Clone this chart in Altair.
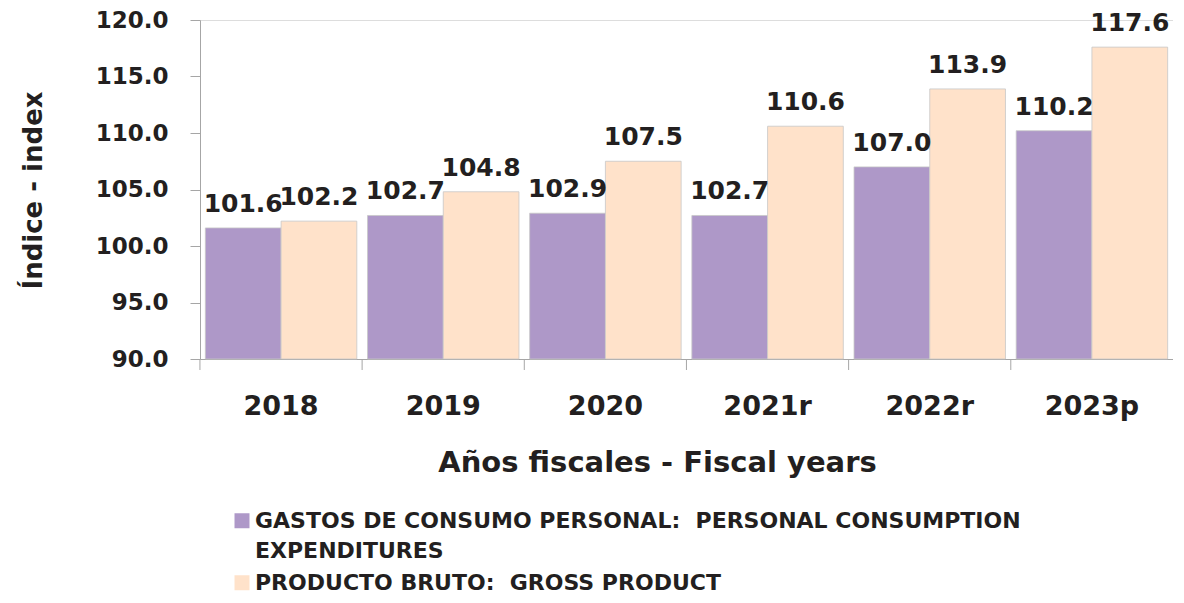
import altair as alt
import pandas as pd

years = ["2018", "2019", "2020", "2021r", "2022r", "2023p"]
gastos = [101.6, 102.7, 102.9, 102.7, 107.0, 110.2]
producto = [102.2, 104.8, 107.5, 110.6, 113.9, 117.6]
series_names = [
    "GASTOS DE CONSUMO PERSONAL:\u00a0 PERSONAL CONSUMPTION EXPENDITURES",
    "PRODUCTO BRUTO:\u00a0 GROSS PRODUCT",
]
colors = ["#AE98C8", "#FFE2CA"]
y_ticks = [90, 95, 100, 105, 110, 115, 120]

rows = []
for i, yr in enumerate(years):
    rows.append({"year": yr, "serie": series_names[0], "value": gastos[i]})
    rows.append({"year": yr, "serie": series_names[1], "value": producto[i]})
df = pd.DataFrame(rows)

FONT = "DejaVu Sans"
TXT = "#231F20"
GREY = "#A6A6A6"
P_IN = 0.066

x_enc = alt.X(
    "year:N",
    sort=years,
    scale=alt.Scale(paddingInner=P_IN, paddingOuter=P_IN / 2),
    axis=alt.Axis(
        title="Años fiscales - Fiscal years",
        titleFontSize=29,
        titleFont=FONT,
        titleFontWeight="bold",
        titleColor=TXT,
        titleX=457,
        titleY=89,
        titleBaseline="top",
        labelFontSize=27,
        labelFont=FONT,
        labelFontWeight="bold",
        labelColor=TXT,
        labelAngle=0,
        labelPadding=34,
        ticks=False,
        domainColor=GREY,
        domainWidth=1,
    ),
)

y_scale = alt.Scale(domain=[90, 120], nice=False, zero=False)

base = alt.Chart(df)

bars = base.mark_bar(stroke="#C8C8C8", strokeWidth=0.8).encode(
    x=x_enc,
    xOffset=alt.XOffset("serie:N", sort=series_names),
    y=alt.Y(
        "value:Q",
        scale=y_scale,
        axis=alt.Axis(
            title="Índice - index",
            titleFontSize=26,
            titleFont=FONT,
            titleFontWeight="bold",
            titleColor=TXT,
            titleAngle=-90,
            titleX=-167,
            titleY=170,
            titleAlign="center",
            titleBaseline="middle",
            values=y_ticks,
            format=".1f",
            labelFontSize=23,
            labelFont=FONT,
            labelFontWeight="bold",
            labelColor=TXT,
            labelPadding=22,
            tickSize=10,
            tickColor=GREY,
            domainColor=GREY,
            grid=False,
        ),
    ),
    y2=alt.Y2(datum=90),
    color=alt.Color(
        "serie:N",
        scale=alt.Scale(domain=series_names, range=colors),
        legend=alt.Legend(
            title=None,
            orient="none",
            legendX=31,
            legendY=480,
            labelFont=FONT,
            labelFontSize=22,
            labelFontWeight="bold",
            labelColor=TXT,
            labelBaseline="top",
            labelOffset=2,
            labelLimit=1000,
            symbolType="M-1,0.3H1V2.3H-1Z",
            symbolSize=225,
            symbolStrokeWidth=0,
            rowPadding=-2,
            padding=0,
            labelExpr="split(replace(datum.label, ' EXPENDITURES', '|EXPENDITURES'), '|')",
        ),
    ),
)

labels = base.mark_text(
    font=FONT, fontSize=25, fontWeight="bold", color=TXT,
    baseline="alphabetic", dy=-16,
).encode(
    x=alt.X("year:N", sort=years),
    xOffset=alt.XOffset("serie:N", sort=series_names),
    y=alt.Y("value:Q", scale=y_scale),
    text=alt.Text("value:Q", format=".1f"),
)

ticks_df = pd.DataFrame({"year": years})
xticks = alt.Chart(ticks_df).mark_rule(color=GREY, strokeWidth=1, xOffset=-5.4).encode(
    x=alt.X("year:N", sort=years, bandPosition=0),
    y=alt.value(339),
    y2=alt.value(350),
)

chart = (
    alt.layer(bars, labels, xticks)
    .properties(
        width=973,
        height=339,
        autosize=alt.AutoSizeParams(type="none"),
        padding={"left": 192, "top": 12, "right": 0, "bottom": 236},
    )
    .configure_view(stroke=None)
    .configure(background="white", style={"guide-label": {"lineHeight": 30}})
)

chart.save("out.html", embed_options={"renderer": "svg", "actions": False})
